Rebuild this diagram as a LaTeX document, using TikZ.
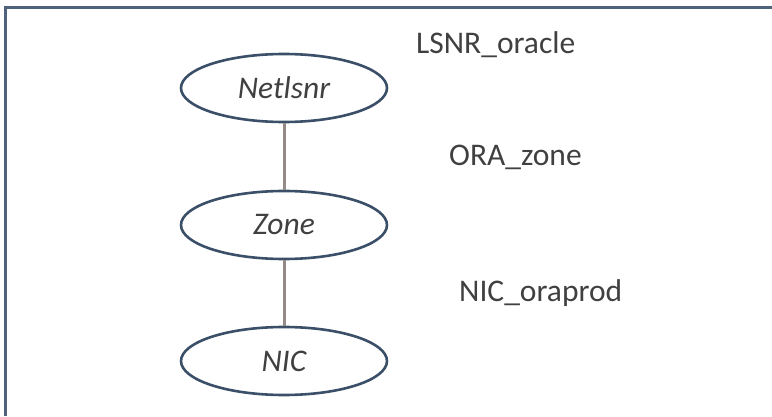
\documentclass[tikz,border=0pt]{standalone}
\usepackage{fontspec}
\setmainfont{Carlito}
\usetikzlibrary{shapes.geometric}
\definecolor{framec}{HTML}{4F637C}
\definecolor{ellc}{HTML}{3B5068}
\definecolor{linkc}{HTML}{948A86}
\definecolor{txtc}{HTML}{404040}
\tikzset{
  res/.style={ellipse, draw=ellc, line width=2.6pt, fill=white, minimum width=206pt, minimum height=68pt, inner sep=0pt, font=\fontsize{31.5}{36}\selectfont\itshape, text=txtc},
  lbl/.style={anchor=base west, inner sep=0pt, font=\fontsize{31.5}{36}\selectfont, text=txtc},
  link/.style={draw=linkc, line width=3pt}
}
\begin{document}
\begin{tikzpicture}[x=1pt,y=1pt]
\useasboundingbox (0,0) rectangle (772,416);
\coordinate (fb) at (5,0);
\coordinate (fc) at (5,408);
\coordinate (fr) at (772,408);
\draw[framec, line width=3pt] (fb) -- (fc) -- (fr);
\node[res] (net) at (284,328) {Netlsnr};
\node[res] (zone) at (284,191) {Zone};
\node[res] (nic) at (284,55) {NIC};
\draw[link] (net) -- (zone);
\draw[link] (zone) -- (nic);
\node[lbl] (l1) at (416,362) {LSNR\_oracle};
\node[lbl] (l2) at (449,251) {ORA\_zone};
\node[lbl] (l3) at (459,115) {NIC\_oraprod};
\end{tikzpicture}
\end{document}
